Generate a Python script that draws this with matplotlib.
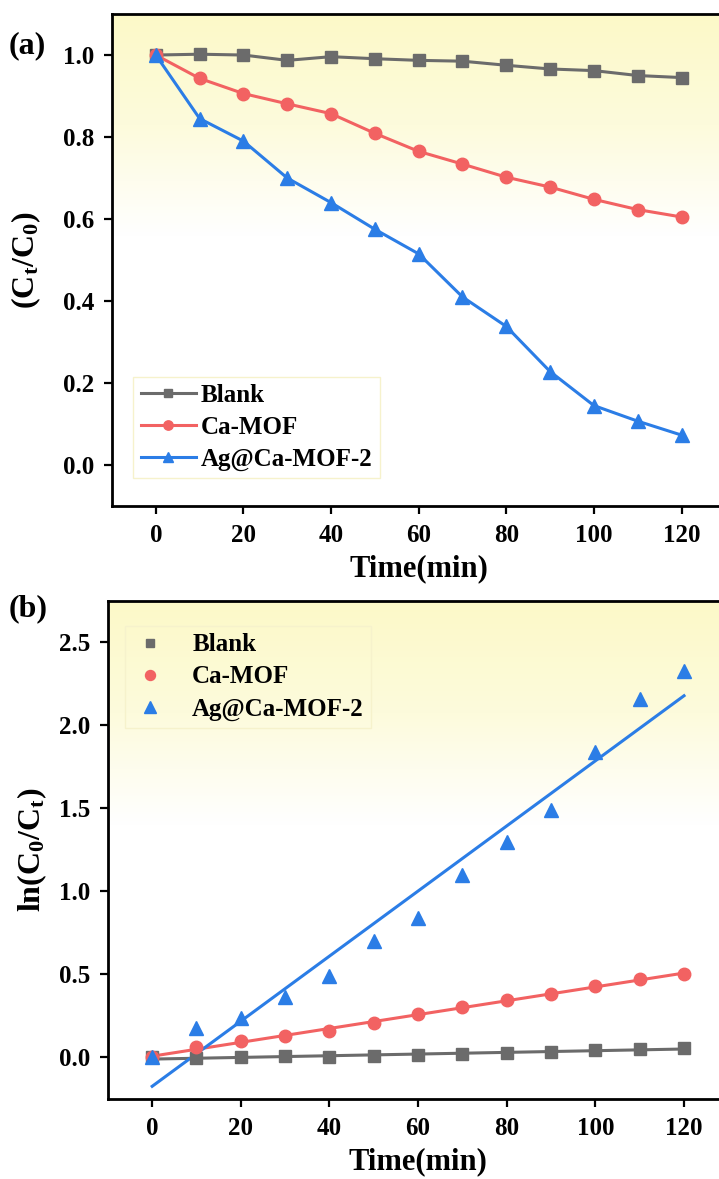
import numpy as np
import matplotlib.pyplot as plt
from matplotlib.colors import LinearSegmentedColormap

# Fonts: bold Times-like serif everywhere
plt.rcParams['font.family'] = 'Liberation Serif'
plt.rcParams['font.weight'] = 'bold'
plt.rcParams['axes.labelweight'] = 'bold'
plt.rcParams['mathtext.fontset'] = 'custom'
plt.rcParams['mathtext.rm'] = 'Liberation Serif:bold'
plt.rcParams['mathtext.it'] = 'Liberation Serif:bold'
plt.rcParams['mathtext.bf'] = 'Liberation Serif:bold'

# Data
time = [0, 10, 20, 30, 40, 50, 60, 70, 80, 90, 100, 110, 120]
labels = ['Blank', 'Ca-MOF', 'Ag@Ca-MOF-2']

# (a) Ct/C0
blank_ratio = [1.0, 1.002, 1.0, 0.987, 0.996, 0.991, 0.987, 0.985, 0.975, 0.966, 0.962, 0.950, 0.945]
camof_ratio = [1.0, 0.943, 0.906, 0.881, 0.857, 0.809, 0.765, 0.734, 0.702, 0.678, 0.648, 0.623, 0.605]
ag_ratio = [1.0, 0.845, 0.790, 0.700, 0.640, 0.575, 0.515, 0.410, 0.338, 0.228, 0.145, 0.107, 0.073]

# (b) ln(C0/Ct)
blank_ln = [0.0, -0.005, 0.0, 0.01, 0.005, 0.01, 0.015, 0.02, 0.025, 0.035, 0.042, 0.052, 0.057]
camof_ln = [0.0, 0.062, 0.10, 0.13, 0.157, 0.21, 0.26, 0.305, 0.345, 0.385, 0.43, 0.47, 0.50]
ag_ln = [0.0, 0.18, 0.238, 0.365, 0.49, 0.70, 0.84, 1.10, 1.30, 1.49, 1.84, 2.16, 2.33]

colors = ['#6b6b6b', '#f26262', '#2b7de6']
markers = ['s', 'o', '^']

fig = plt.figure(figsize=(7.19, 11.79), dpi=100)
ax1 = fig.add_axes([0.1558, 0.5708, 0.853, 0.4173])
ax2 = fig.add_axes([0.150, 0.0679, 0.863, 0.4224])

# pale yellow to white gradient background
grad_cmap = LinearSegmentedColormap.from_list('bg', ['#ffffff', '#fdfbdc', '#fcf9c8'])
grad = np.linspace(0, 1, 256).reshape(-1, 1)
grad = np.clip((grad - 0.55) / 0.45, 0, 1)
for ax in (ax1, ax2):
    ax.imshow(grad, cmap=grad_cmap, origin='lower', aspect='auto',
              extent=[0, 1, 0, 1], transform=ax.transAxes, zorder=0)

# panel (a)
for y, c, m, lab in zip([blank_ratio, camof_ratio, ag_ratio], colors, markers, labels):
    ms = 8 if m == 's' else (9 if m == 'o' else 10)
    ax1.plot(time, y, color=c, marker=m, markersize=ms, linewidth=2.2, label=lab, zorder=3)

ax1.set_xlim(-10, 130)
ax1.set_ylim(-0.1, 1.1)
ax1.set_xticks([0, 20, 40, 60, 80, 100, 120])
ax1.set_yticks([0.0, 0.2, 0.4, 0.6, 0.8, 1.0])
ax1.set_xlabel('Time(min)', fontsize=22, labelpad=5)
ax1.set_ylabel(r'(C$_t$/C$_0$)', fontsize=23, labelpad=14)
leg1 = ax1.legend(loc='lower left', bbox_to_anchor=(0.014, 0.031), fontsize=18,
                  handlelength=2.2, handletextpad=0.2, labelspacing=0.35,
                  borderpad=0.3, fancybox=False, framealpha=1.0, markerscale=0.75)
leg1.get_frame().set_edgecolor('#f6f2cc')
leg1.get_frame().set_facecolor('none')
fig.text(0.012, 0.955, '(a)', fontsize=23)

# panel (b): points with linear fits
for y, c, m, lab in zip([blank_ln, camof_ln, ag_ln], colors, markers, labels):
    ms = 8 if m == 's' else (9 if m == 'o' else 10)
    ax2.plot(time, y, linestyle='none', color=c, marker=m, markersize=ms, label=lab, zorder=3)
    k, b = np.polyfit(time, y, 1)
    t = np.array([time[0], time[-1]])
    ax2.plot(t, k * t + b, color=c, linewidth=2.2, zorder=2)

ax2.set_xlim(-10, 130)
ax2.set_ylim(-0.25, 2.75)
ax2.set_xticks([0, 20, 40, 60, 80, 100, 120])
ax2.set_yticks([0.0, 0.5, 1.0, 1.5, 2.0, 2.5])
ax2.set_xlabel('Time(min)', fontsize=22, labelpad=5)
ax2.set_ylabel(r'ln(C$_0$/C$_t$)', fontsize=23, labelpad=7)
leg2 = ax2.legend(loc='upper left', bbox_to_anchor=(0.015, 0.965), fontsize=18,
                  handlelength=1.4, handletextpad=1.0, labelspacing=0.36,
                  borderpad=0.3, borderaxespad=0.3, fancybox=False, framealpha=1.0,
                  markerscale=0.8)
leg2.get_frame().set_edgecolor('#f6f2cc')
leg2.get_frame().set_facecolor('none')
fig.text(0.012, 0.477, '(b)', fontsize=23)

for ax in (ax1, ax2):
    for s in ax.spines.values():
        s.set_linewidth(2.0)
    ax.tick_params(direction='out', length=6, width=1.6, labelsize=18, pad=7)

plt.savefig('out.png', dpi=100)
plt.close()
